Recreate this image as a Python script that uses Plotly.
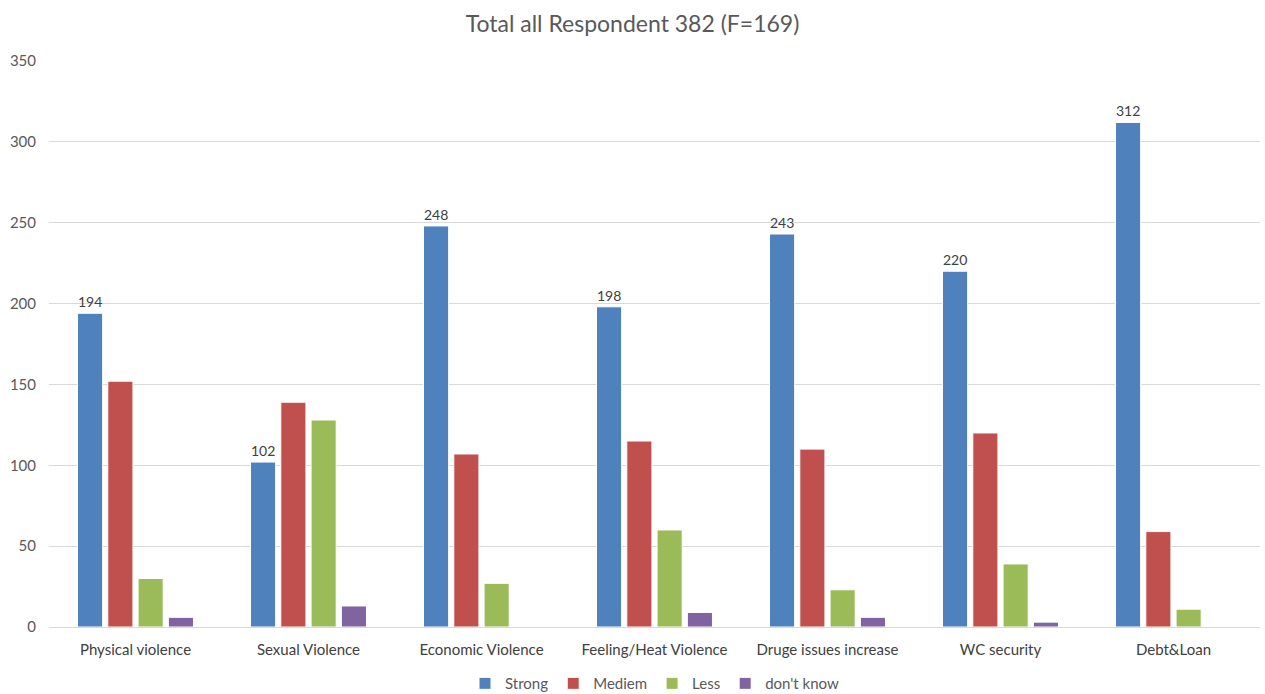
import plotly.graph_objects as go

categories = ["Physical violence", "Sexual Violence", "Economic Violence",
              "Feeling/Heat Violence", "Druge issues increase", "WC security", "Debt&Loan"]
strong = [194, 102, 248, 198, 243, 220, 312]
mediem = [152, 139, 107, 115, 110, 120, 59]
less = [30, 128, 27, 60, 23, 39, 11]
dont_know = [6, 13, 0, 9, 6, 3, 0]

series = [
    ("Strong", strong, "#4F81BD", True),
    ("Mediem", mediem, "#C0504D", False),
    ("Less", less, "#9BBB59", False),
    ("don't know", dont_know, "#8064A2", False),
]

font_family = "Lato, 'Open Sans', sans-serif"
text_color = "#595959"

fig = go.Figure()
for name, vals, color, labelled in series:
    fig.add_trace(go.Bar(
        name=name, x=categories, y=vals,
        marker=dict(color=color, line=dict(color="white", width=1)),
        text=[str(v) for v in vals] if labelled else None,
        textposition="outside" if labelled else None,
        textfont=dict(size=14, color="#404040", family=font_family),
        cliponaxis=False,
    ))

fig.update_layout(
    title=dict(text="Total all Respondent 382 (F=169)", x=0.5, xanchor="center",
               y=0.965, yanchor="middle",
               font=dict(size=23, color=text_color, family=font_family)),
    barmode="group", bargap=0.3, bargroupgap=0.17,
    width=1265, height=694,
    margin=dict(l=49, r=5, t=61, b=67, autoexpand=False),
    plot_bgcolor="white", paper_bgcolor="white",
    font=dict(family=font_family, size=14, color=text_color),
    legend=dict(orientation="h", x=0.5, xanchor="center", y=-0.1, yanchor="middle",
                font=dict(size=15, color=text_color), traceorder="normal",
                itemwidth=30),
    showlegend=True,
    xaxis=dict(showline=True, linecolor="#D9D9D9", linewidth=1, ticks="",
               tickfont=dict(size=15, color="#404040"), ticklabelstandoff=9,
               automargin=False),
    yaxis=dict(range=[0, 350], dtick=50, showgrid=True, gridcolor="#D9D9D9",
               zeroline=False, tickfont=dict(size=15, color=text_color),
               ticklabelstandoff=12, automargin=False),
)

fig.write_html("out.html")
